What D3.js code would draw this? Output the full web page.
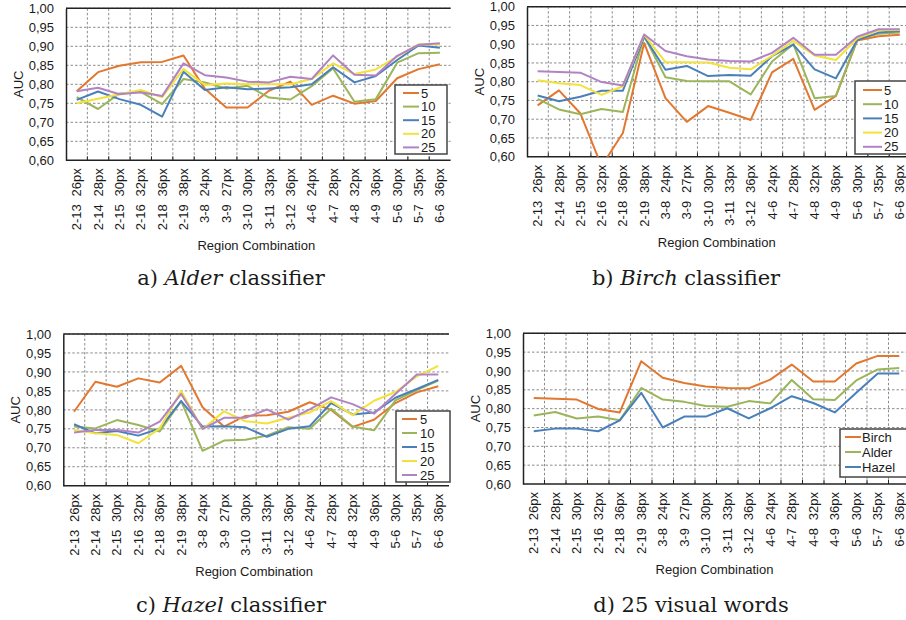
<!DOCTYPE html>
<html>
<head>
<meta charset="utf-8">
<script src="https://cdn.jsdelivr.net/npm/d3@7"></script>
<style>
body{margin:0;background:#fff;}
svg text{font-family:'Liberation Sans',Arial,sans-serif;fill:#1a1a1a;}
.caption{font-family:'DejaVu Serif',serif;}
</style>
</head>
<body>
<svg width="906" height="620"></svg>
<script>
// region combinations (x axis), two parts per label
let regions=['2-13','2-14','2-15','2-16','2-18','2-19','3-8','3-9','3-10','3-11','3-12','4-6','4-7','4-8','4-9','5-6','5-7','6-6'];
let sizes=['26px','28px','30px','32px','36px','38px','24px','27px','30px','33px','36px','24px','28px','32px','36px','30px','35px','36px'];
let yTicks=[0.60,0.65,0.70,0.75,0.80,0.85,0.90,0.95,1.00];
let wordNames=['5','10','15','20','25'];
let treeNames=['Birch','Alder','Hazel'];

// Alder classifier
let alder5 =[0.782,0.832,0.849,0.858,0.859,0.876,0.788,0.739,0.739,0.783,0.807,0.746,0.770,0.749,0.756,0.816,0.840,0.853];
let alder10=[0.766,0.735,0.776,0.780,0.748,0.814,0.805,0.789,0.796,0.765,0.760,0.795,0.842,0.754,0.761,0.857,0.882,0.883];
let alder15=[0.759,0.781,0.761,0.746,0.715,0.833,0.785,0.792,0.787,0.789,0.792,0.800,0.845,0.805,0.822,0.864,0.902,0.896];
let alder20=[0.750,0.762,0.774,0.785,0.766,0.840,0.798,0.802,0.800,0.800,0.800,0.814,0.855,0.827,0.839,0.873,0.905,0.905];
let alder25=[0.782,0.791,0.774,0.779,0.769,0.855,0.824,0.818,0.807,0.805,0.820,0.814,0.876,0.825,0.823,0.875,0.904,0.908];

// Birch classifier
let birch5 =[0.737,0.777,0.716,0.575,0.663,0.903,0.756,0.693,0.735,0.717,0.698,0.825,0.861,0.725,0.762,0.910,0.921,0.925];
let birch10=[0.754,0.726,0.713,0.727,0.719,0.922,0.812,0.802,0.801,0.801,0.766,0.854,0.900,0.756,0.762,0.913,0.928,0.931];
let birch15=[0.763,0.748,0.760,0.776,0.776,0.920,0.832,0.842,0.815,0.818,0.816,0.868,0.899,0.833,0.809,0.911,0.931,0.935];
let birch20=[0.804,0.796,0.791,0.765,0.788,0.925,0.852,0.852,0.851,0.837,0.833,0.869,0.909,0.870,0.858,0.916,0.937,0.938];
let birch25=[0.828,0.826,0.824,0.799,0.790,0.926,0.882,0.868,0.859,0.855,0.854,0.877,0.917,0.872,0.872,0.920,0.940,0.940];

// Hazel classifier
let hazel5 =[0.795,0.874,0.861,0.883,0.872,0.916,0.807,0.756,0.784,0.786,0.795,0.820,0.800,0.755,0.774,0.818,0.846,0.862];
let hazel10=[0.756,0.751,0.773,0.760,0.743,0.823,0.692,0.719,0.721,0.732,0.754,0.750,0.803,0.756,0.746,0.825,0.852,0.877];
let hazel15=[0.762,0.738,0.744,0.732,0.751,0.823,0.756,0.757,0.754,0.729,0.750,0.757,0.818,0.788,0.793,0.832,0.855,0.879];
let hazel20=[0.747,0.738,0.734,0.712,0.751,0.850,0.749,0.796,0.770,0.764,0.779,0.793,0.823,0.786,0.824,0.847,0.888,0.916];
let hazel25=[0.740,0.747,0.747,0.740,0.769,0.842,0.750,0.779,0.779,0.801,0.774,0.801,0.833,0.815,0.790,0.842,0.893,0.893];

let svg=d3.select('svg');
let comma=d3.formatLocale({decimal:',',thousands:'.',grouping:[3],currency:['','']}).format('.2f');
let wordColors=['#e2782f','#9bb55a','#4a80ba','#f2e23a','#b283c4'];
let treeColors=['#e2782f','#9bb55a','#4a80ba'];

let panels=[
  {left:66,top:8.3,right:450.6,bottom:160.3,series:[alder5,alder10,alder15,alder20,alder25],names:wordNames,colors:wordColors,
   legend:{x:395,y:85,w:52,h:69,step:13.6,first:8,line:[8,24],tx:26},cap:{x:231,y:285,pre:'a) ',it:'Alder',post:' classifier'}},
  {left:527,top:6.7,right:910.5,bottom:156.7,series:[birch5,birch10,birch15,birch20,birch25],names:wordNames,colors:wordColors,
   legend:{x:855,y:81,w:56,h:73,step:14.2,first:9,line:[8,27],tx:29},cap:{x:686,y:285,pre:'b) ',it:'Birch',post:' classifier'}},
  {left:63.3,top:334,right:449,bottom:485.7,series:[hazel5,hazel10,hazel15,hazel20,hazel25],names:wordNames,colors:wordColors,
   legend:{x:396,y:411,w:54,h:71,step:14,first:8,line:[6,21],tx:24},cap:{x:231,y:612,pre:'c) ',it:'Hazel',post:' classifier'}},
  {left:523,top:333.3,right:910,bottom:484,series:[birch25,alder25,hazel25],names:treeNames,colors:treeColors,
   legend:{x:840,y:429,w:72,h:48,step:15,first:8,line:[5,21],tx:22},cap:{x:691,y:612,pre:'d) 25 visual words',it:'',post:''}}
];

let drawPanel=(p,i)=>{
  let g=svg.append('g');
  let xScale=d3.scaleBand().domain(regions).range([p.left,p.right]);
  let yScale=d3.scaleLinear().domain([0.6,1.0]).range([p.bottom,p.top]);
  let half=xScale.bandwidth()/2;

  // dashed grid
  g.append('g').selectAll('line').data(yTicks.slice(1)).enter().append('line')
    .attr('x1',p.left).attr('x2',p.right)
    .attr('y1',d=>yScale(d)).attr('y2',d=>yScale(d))
    .attr('stroke','#8c8c8c').attr('stroke-dasharray','2.5,2').attr('stroke-width',1);
  g.append('g').selectAll('line').data(regions.slice(1)).enter().append('line')
    .attr('x1',d=>xScale(d)).attr('x2',d=>xScale(d))
    .attr('y1',p.top).attr('y2',p.bottom)
    .attr('stroke','#8c8c8c').attr('stroke-dasharray','2.5,2').attr('stroke-width',1);

  // ticks on x axis
  g.append('g').selectAll('line').data(regions.slice(1)).enter().append('line')
    .attr('x1',d=>xScale(d)).attr('x2',d=>xScale(d))
    .attr('y1',p.bottom).attr('y2',p.bottom-4)
    .attr('stroke','#222');

  // frame
  g.append('line').attr('x1',p.left).attr('x2',p.right).attr('y1',p.top).attr('y2',p.top)
    .attr('stroke','#222').attr('stroke-width',1.5);
  g.append('line').attr('x1',p.left).attr('x2',p.right).attr('y1',p.bottom).attr('y2',p.bottom)
    .attr('stroke','#222').attr('stroke-width',1.5);

  let yAxis=d3.axisLeft(yScale).tickValues(yTicks).tickFormat(comma).tickSizeInner(0).tickSizeOuter(0).tickPadding(12);
  let ya=g.append('g').attr('transform','translate('+p.left+',0)').call(yAxis);
  ya.select('.domain').attr('stroke','#222').attr('stroke-width',1.5);
  ya.selectAll('text').attr('font-size',13).attr('font-family',null).attr('fill','#1a1a1a');

  // x labels: "px" part and region part
  g.append('g').selectAll('text').data(sizes).enter().append('text')
    .attr('transform',(d,j)=>'translate('+(xScale(regions[j])+half)+','+(p.bottom+8)+') rotate(-90)')
    .attr('text-anchor','end').attr('dy','0.35em').attr('font-size',13).text(d=>d);
  g.append('g').selectAll('text').data(regions).enter().append('text')
    .attr('transform',d=>'translate('+(xScale(d)+half)+','+(p.bottom+44)+') rotate(-90)')
    .attr('text-anchor','end').attr('dy','0.35em').attr('font-size',13).text(d=>d);

  g.append('text').attr('x',(p.left+p.right)/2-2).attr('y',p.bottom+90)
    .attr('text-anchor','middle').attr('font-size',13).text('Region Combination');
  g.append('text').attr('transform','translate('+(p.left-48)+','+((p.top+p.bottom)/2)+') rotate(-90)')
    .attr('text-anchor','middle').attr('dy','0.35em').attr('font-size',13).text('AUC');

  // series
  let clipId='clip'+i;
  g.append('clipPath').attr('id',clipId).append('rect')
    .attr('x',p.left).attr('y',p.top).attr('width',p.right-p.left).attr('height',p.bottom-p.top);
  let line=d3.line().x((d,j)=>xScale(regions[j])+half).y(d=>yScale(d));
  g.append('g').attr('clip-path','url(#'+clipId+')').selectAll('path').data(p.series).enter().append('path')
    .attr('d',line).attr('fill','none')
    .attr('stroke',(d,k)=>p.colors[k]).attr('stroke-width',2).attr('stroke-linejoin','round');

  // legend
  let L=p.legend;
  let lg=g.append('g').attr('transform','translate('+L.x+','+L.y+')');
  lg.append('rect').attr('width',L.w).attr('height',L.h).attr('fill','#fff')
    .attr('stroke','#444').attr('stroke-width',1.5);
  let items=lg.selectAll('g').data(p.names).enter().append('g')
    .attr('transform',(d,k)=>'translate(0,'+(L.first+k*L.step)+')');
  items.append('line').attr('x1',L.line[0]).attr('x2',L.line[1])
    .attr('stroke',(d,k)=>p.colors[k]).attr('stroke-width',2);
  items.append('text').attr('x',L.tx).attr('dy','0.36em').attr('font-size',13).text(d=>d);

  // caption
  let c=svg.append('text').attr('class','caption').attr('x',p.cap.x).attr('y',p.cap.y)
    .attr('text-anchor','middle').attr('font-size',21);
  c.append('tspan').text(p.cap.pre);
  if(p.cap.it) c.append('tspan').attr('font-style','italic').text(p.cap.it);
  if(p.cap.post) c.append('tspan').text(p.cap.post);
};

panels.forEach(drawPanel);
</script>
</body>
</html>
